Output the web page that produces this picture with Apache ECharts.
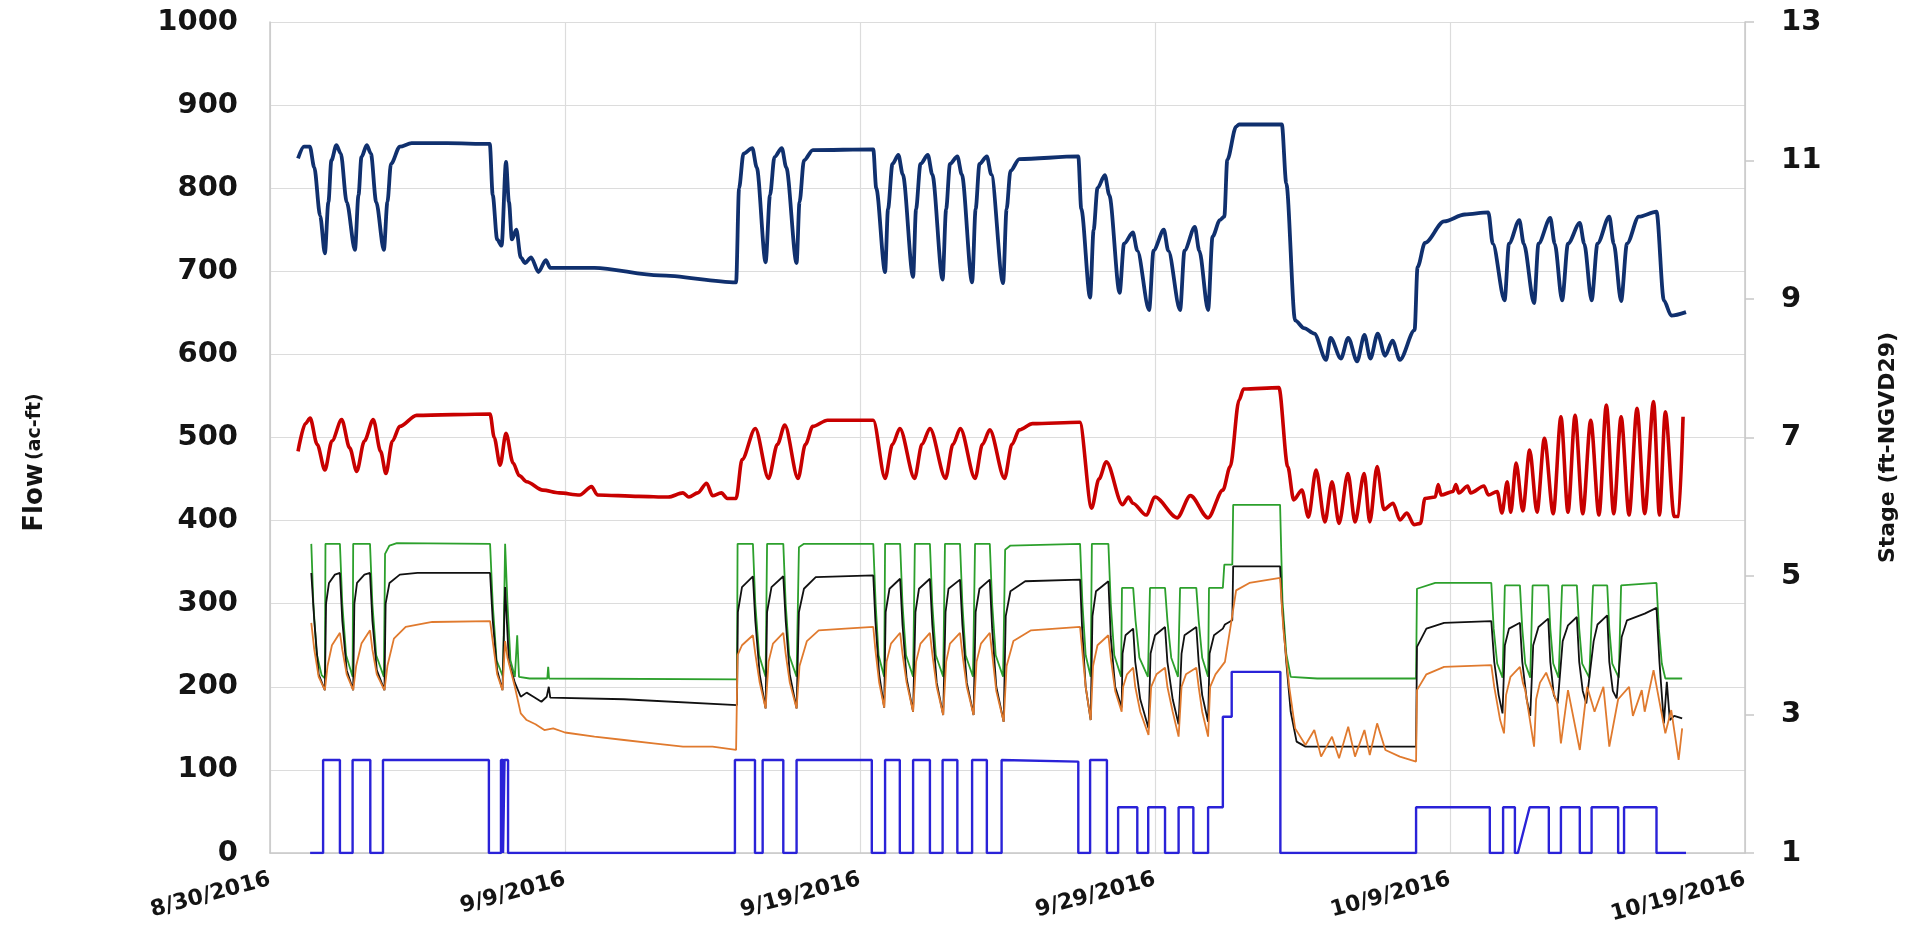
<!DOCTYPE html>
<html>
<head>
<meta charset="utf-8">
<script src="https://cdn.jsdelivr.net/npm/echarts@6/dist/echarts.min.js"></script>
<style>
html,body{margin:0;padding:0;background:#fff;}
#c{width:1911px;height:952px;}
</style>
</head>
<body>
<div id="c"></div>
<script>
// x values: days since 8/30/2016
const tickLabels = ['8/30/2016','9/9/2016','9/19/2016','9/29/2016','10/9/2016','10/19/2016'];

// Stage series (ft-NGVD29), right axis
const navyStage = [[0.95,11.03],[1.15,11.2],[1.35,11.2],[1.5,10.9],[1.7,10.2],[1.86,9.66],[1.98,10.4],[2.08,11.0],[2.25,11.22],[2.4,11.1],[2.6,10.4],[2.88,9.71],[3.0,10.5],[3.1,11.05],[3.28,11.22],[3.42,11.1],[3.6,10.4],[3.86,9.71],[3.98,10.4],[4.1,10.95],[4.4,11.2],[4.8,11.25],[6.0,11.25],[7.45,11.24],[7.55,10.5],[7.7,9.86],[7.85,9.77],[8.0,10.98],[8.1,10.4],[8.2,9.86],[8.35,10.0],[8.5,9.6],[8.65,9.52],[8.85,9.6],[9.1,9.39],[9.35,9.56],[9.5,9.45],[11.0,9.45],[13.2,9.34],[15.8,9.24],[15.9,10.6],[16.05,11.1],[16.35,11.18],[16.5,10.9],[16.8,9.53],[16.95,10.5],[17.1,11.05],[17.35,11.18],[17.5,10.9],[17.85,9.52],[17.95,10.4],[18.1,11.0],[18.4,11.15],[20.45,11.16],[20.55,10.6],[20.85,9.39],[20.95,10.3],[21.1,10.95],[21.3,11.08],[21.45,10.8],[21.8,9.32],[21.9,10.3],[22.05,10.95],[22.3,11.08],[22.45,10.8],[22.8,9.28],[22.92,10.3],[23.05,10.95],[23.3,11.06],[23.45,10.8],[23.8,9.24],[23.92,10.3],[24.05,10.95],[24.3,11.06],[24.45,10.8],[24.85,9.23],[24.97,10.3],[25.1,10.85],[25.4,11.02],[27.4,11.06],[27.5,10.3],[27.8,9.02],[27.92,10.0],[28.05,10.6],[28.3,10.79],[28.45,10.5],[28.8,9.09],[28.95,9.8],[29.25,9.96],[29.4,9.7],[29.8,8.84],[29.95,9.7],[30.3,10.0],[30.45,9.7],[30.85,8.84],[31.0,9.7],[31.35,10.04],[31.5,9.7],[31.8,8.84],[31.95,9.9],[32.2,10.14],[32.35,10.19],[32.45,11.01],[32.75,11.49],[32.85,11.52],[34.3,11.52],[34.45,10.67],[34.75,8.69],[35.05,8.58],[35.4,8.5],[35.8,8.12],[35.95,8.44],[36.3,8.14],[36.55,8.44],[36.85,8.1],[37.1,8.48],[37.3,8.14],[37.55,8.5],[37.8,8.18],[38.05,8.4],[38.3,8.12],[38.8,8.55],[38.9,9.46],[39.15,9.81],[39.8,10.12],[40.5,10.22],[41.3,10.25],[41.45,9.8],[41.85,8.98],[42.0,9.8],[42.35,10.14],[42.5,9.8],[42.85,8.94],[43.0,9.8],[43.4,10.17],[43.55,9.8],[43.8,8.98],[44.0,9.8],[44.4,10.1],[44.55,9.8],[44.8,8.98],[45.0,9.8],[45.4,10.19],[45.55,9.8],[45.8,8.97],[46.0,9.8],[46.4,10.19],[47.0,10.26],[47.25,8.98],[47.5,8.76],[48.0,8.81]];

const redStage = [[0.95,6.8],[1.2,7.2],[1.36,7.28],[1.6,6.9],[1.86,6.53],[2.1,6.95],[2.43,7.26],[2.7,6.85],[2.94,6.51],[3.2,6.95],[3.5,7.26],[3.75,6.8],[3.93,6.48],[4.15,6.95],[4.4,7.16],[4.97,7.32],[7.46,7.34],[7.6,7.0],[7.8,6.6],[8.0,7.06],[8.24,6.63],[8.45,6.45],[8.7,6.36],[9.25,6.24],[9.8,6.2],[10.5,6.17],[10.9,6.29],[11.1,6.17],[12.5,6.15],[13.5,6.14],[14.0,6.2],[14.2,6.14],[14.5,6.2],[14.8,6.34],[15.0,6.16],[15.3,6.2],[15.5,6.12],[15.8,6.12],[16.0,6.68],[16.45,7.13],[16.9,6.41],[17.2,6.9],[17.45,7.18],[17.9,6.41],[18.15,6.9],[18.4,7.16],[18.9,7.25],[20.45,7.25],[20.85,6.41],[21.1,6.9],[21.35,7.13],[21.85,6.41],[22.1,6.9],[22.37,7.13],[22.9,6.41],[23.15,6.9],[23.4,7.13],[23.9,6.41],[24.15,6.9],[24.4,7.11],[24.9,6.41],[25.15,6.9],[25.4,7.11],[25.85,7.2],[27.45,7.22],[27.85,5.98],[28.1,6.4],[28.35,6.65],[28.9,6.03],[29.1,6.14],[29.25,6.05],[29.7,5.88],[30.0,6.14],[30.75,5.84],[31.2,6.16],[31.8,5.84],[32.3,6.24],[32.55,6.58],[32.85,7.54],[33.0,7.7],[34.2,7.72],[34.5,6.58],[34.7,6.1],[34.98,6.24],[35.2,5.85],[35.46,6.53],[35.76,5.78],[36.0,6.36],[36.24,5.76],[36.54,6.48],[36.78,5.78],[37.09,6.48],[37.28,5.78],[37.53,6.58],[37.76,5.96],[38.07,6.05],[38.3,5.81],[38.54,5.91],[38.78,5.74],[39.0,5.76],[39.15,6.12],[39.5,6.14],[39.6,6.32],[39.7,6.17],[40.1,6.22],[40.2,6.32],[40.3,6.2],[40.6,6.3],[40.7,6.2],[41.15,6.3],[41.3,6.17],[41.6,6.22],[41.76,5.91],[41.94,6.36],[42.06,5.92],[42.24,6.63],[42.47,5.94],[42.7,6.82],[42.95,5.92],[43.2,6.99],[43.5,5.9],[43.76,7.3],[44.0,5.92],[44.24,7.32],[44.5,5.9],[44.77,7.25],[45.05,5.88],[45.3,7.47],[45.55,5.9],[45.8,7.3],[46.07,5.88],[46.34,7.42],[46.6,5.9],[46.9,7.52],[47.1,5.88],[47.3,7.37],[47.6,5.86],[47.75,5.86],[47.9,7.3]];

// Flow series (ac-ft), left axis
const greenFlow = [[1.4,372],[1.47,300],[1.58,240],[1.75,214],[1.86,210],[1.88,372],[2.37,372],[2.45,300],[2.58,238],[2.8,212],[2.82,372],[3.39,372],[3.47,300],[3.6,238],[3.86,212],[3.9,360],[4.05,370],[4.3,373],[7.46,372],[7.55,300],[7.68,232],[7.9,212],[7.97,372],[8.05,300],[8.15,232],[8.3,212],[8.38,262],[8.44,212],[8.8,210],[9.4,210],[9.43,224],[9.46,210],[15.83,209],[15.85,372],[16.37,372],[16.45,300],[16.58,238],[16.8,212],[16.85,372],[17.4,372],[17.48,300],[17.6,238],[17.85,212],[17.93,368],[18.1,372],[20.45,372],[20.53,300],[20.63,238],[20.82,212],[20.85,372],[21.36,372],[21.44,300],[21.56,238],[21.8,212],[21.86,372],[22.37,372],[22.45,300],[22.57,238],[22.82,212],[22.88,372],[23.39,372],[23.47,300],[23.58,238],[23.83,212],[23.9,372],[24.4,372],[24.48,300],[24.6,238],[24.85,212],[24.92,365],[25.1,370],[27.46,372],[27.54,300],[27.65,238],[27.82,212],[27.86,372],[28.42,372],[28.5,300],[28.62,238],[28.85,212],[28.88,319],[29.26,319],[29.34,280],[29.47,235],[29.76,212],[29.83,319],[30.34,319],[30.42,280],[30.55,235],[30.78,212],[30.85,319],[31.4,319],[31.48,280],[31.6,235],[31.8,212],[31.83,319],[32.3,319],[32.35,347],[32.62,347],[32.65,419],[34.24,419],[34.32,304],[34.45,240],[34.6,212],[35.5,210],[38.85,210],[38.88,318],[39.5,325],[41.4,325],[41.48,270],[41.6,228],[41.78,211],[41.86,322],[42.37,322],[42.45,270],[42.55,228],[42.72,211],[42.8,322],[43.33,322],[43.4,270],[43.5,228],[43.68,211],[43.8,322],[44.3,322],[44.38,270],[44.48,228],[44.72,211],[44.85,322],[45.33,322],[45.4,270],[45.5,228],[45.72,211],[45.8,322],[47.0,325],[47.08,270],[47.18,228],[47.3,210],[47.87,210]];

const blackFlow = [[1.4,337],[1.5,280],[1.65,215],[1.86,196],[1.9,300],[2.0,325],[2.2,335],[2.37,337],[2.45,280],[2.6,220],[2.82,196],[2.86,300],[2.95,325],[3.2,335],[3.39,337],[3.47,280],[3.62,220],[3.88,196],[3.92,300],[4.05,325],[4.4,335],[5.0,337],[7.46,337],[7.55,280],[7.7,220],[7.88,196],[7.97,320],[8.1,230],[8.3,205],[8.5,188],[8.7,193],[8.93,188],[9.2,182],[9.38,188],[9.45,200],[9.5,187],[12.0,185],[15.83,178],[15.86,290],[16.0,320],[16.37,333],[16.45,280],[16.6,215],[16.8,174],[16.85,290],[17.0,320],[17.4,333],[17.48,280],[17.62,215],[17.85,174],[17.93,290],[18.1,318],[18.5,332],[20.45,334],[20.52,280],[20.65,215],[20.82,175],[20.87,290],[21.0,318],[21.36,330],[21.44,275],[21.58,210],[21.8,170],[21.88,290],[22.0,318],[22.37,330],[22.45,275],[22.6,205],[22.82,166],[22.9,290],[23.0,318],[23.39,329],[23.47,275],[23.62,205],[23.85,166],[23.92,290],[24.05,318],[24.4,329],[24.48,270],[24.62,200],[24.87,158],[24.94,285],[25.1,315],[25.6,327],[27.46,329],[27.53,270],[27.65,200],[27.82,160],[27.88,285],[28.0,315],[28.42,327],[28.5,260],[28.65,200],[28.87,175],[28.9,240],[29.0,262],[29.26,270],[29.33,230],[29.5,185],[29.78,150],[29.85,240],[30.0,262],[30.34,272],[30.42,230],[30.6,185],[30.8,155],[30.9,240],[31.0,262],[31.4,272],[31.48,230],[31.6,190],[31.8,158],[31.85,240],[32.0,262],[32.3,270],[32.37,275],[32.62,280],[32.65,345],[34.24,345],[34.3,300],[34.45,230],[34.6,170],[34.8,134],[35.1,128],[38.85,128],[38.88,248],[39.2,270],[39.8,277],[41.4,279],[41.5,230],[41.65,190],[41.78,168],[41.86,250],[42.0,270],[42.37,277],[42.45,230],[42.6,185],[42.72,165],[42.82,250],[43.0,272],[43.33,282],[43.4,230],[43.52,190],[43.65,180],[43.82,255],[44.0,274],[44.3,284],[44.38,230],[44.5,195],[44.62,180],[44.87,255],[45.0,275],[45.33,286],[45.4,230],[45.52,195],[45.65,186],[45.82,260],[46.0,280],[46.6,288],[47.0,295],[47.1,230],[47.25,156],[47.35,206],[47.45,160],[47.6,165],[47.87,162]];

const orangeFlow = [[1.4,277],[1.5,245],[1.65,212],[1.86,196],[1.95,225],[2.1,250],[2.37,265],[2.45,245],[2.6,215],[2.82,196],[2.92,225],[3.1,252],[3.39,268],[3.47,245],[3.62,215],[3.88,196],[3.98,225],[4.2,258],[4.6,272],[5.5,278],[7.46,279],[7.55,255],[7.7,215],[7.88,196],[7.97,255],[8.05,235],[8.3,200],[8.5,168],[8.7,160],[9.0,155],[9.3,148],[9.6,150],[10.0,145],[11.0,140],[12.0,136],[13.0,132],[14.0,128],[15.0,128],[15.8,124],[15.85,238],[16.0,250],[16.37,262],[16.45,240],[16.6,205],[16.8,174],[16.9,230],[17.05,252],[17.4,265],[17.48,240],[17.62,205],[17.85,174],[17.95,225],[18.2,255],[18.6,268],[19.5,270],[20.45,272],[20.52,245],[20.65,205],[20.82,175],[20.9,230],[21.05,252],[21.36,265],[21.44,240],[21.58,205],[21.8,170],[21.9,230],[22.05,252],[22.37,265],[22.45,240],[22.6,200],[22.82,166],[22.92,230],[23.05,252],[23.39,265],[23.47,240],[23.62,200],[23.85,166],[23.95,230],[24.1,252],[24.4,265],[24.48,240],[24.62,195],[24.87,158],[24.97,225],[25.2,255],[25.8,268],[27.46,272],[27.53,245],[27.65,200],[27.82,160],[27.9,225],[28.05,250],[28.42,262],[28.5,235],[28.65,195],[28.87,170],[28.92,200],[29.05,215],[29.26,223],[29.33,200],[29.5,170],[29.78,142],[29.87,200],[30.05,215],[30.34,223],[30.42,200],[30.6,170],[30.8,140],[30.9,200],[31.05,215],[31.4,223],[31.48,200],[31.6,170],[31.8,140],[31.87,200],[32.05,215],[32.37,230],[32.55,270],[32.75,316],[33.2,325],[34.24,331],[34.35,270],[34.55,200],[34.75,150],[35.1,130],[35.4,148],[35.63,116],[36.0,140],[36.24,114],[36.55,152],[36.78,116],[37.1,148],[37.28,118],[37.53,156],[37.81,124],[38.3,116],[38.85,110],[38.88,196],[39.2,215],[39.8,224],[41.4,226],[41.5,200],[41.7,160],[41.83,144],[41.9,190],[42.05,212],[42.37,224],[42.47,205],[42.55,196],[42.85,128],[42.92,185],[43.05,205],[43.26,217],[43.63,181],[43.76,132],[44.0,196],[44.4,124],[44.65,200],[44.9,170],[45.2,200],[45.4,128],[45.7,185],[46.07,200],[46.2,165],[46.5,196],[46.6,170],[46.9,220],[47.3,144],[47.5,172],[47.75,112],[47.87,150]];

const blueFlow = [[1.36,0],[1.8,0],[1.8,112],[2.37,112],[2.37,0],[2.8,0],[2.8,112],[3.4,112],[3.4,0],[3.83,0],[3.83,112],[7.42,112],[7.42,0],[7.83,0],[7.83,112],[7.9,112],[7.9,0],[7.95,0],[7.95,112],[8.07,112],[8.07,0],[15.76,0],[15.76,112],[16.44,112],[16.44,0],[16.7,0],[16.7,112],[17.4,112],[17.4,0],[17.85,0],[17.85,112],[20.4,112],[20.4,0],[20.85,0],[20.85,112],[21.35,112],[21.35,0],[21.8,0],[21.8,112],[22.37,112],[22.37,0],[22.8,0],[22.8,112],[23.3,112],[23.3,0],[23.8,0],[23.8,112],[24.3,112],[24.3,0],[24.8,0],[24.8,112],[27.4,110],[27.4,0],[27.8,0],[27.8,112],[28.37,112],[28.37,0],[28.75,0],[28.75,55],[29.4,55],[29.4,0],[29.77,0],[29.77,55],[30.34,55],[30.34,0],[30.8,0],[30.8,55],[31.3,55],[31.3,0],[31.8,0],[31.8,55],[32.3,55],[32.3,164],[32.6,164],[32.6,218],[34.25,218],[34.25,0],[38.85,0],[38.85,55],[41.35,55],[41.35,0],[41.8,0],[41.8,55],[42.2,55],[42.2,0],[42.3,0],[42.7,55],[43.35,55],[43.35,0],[43.76,0],[43.76,55],[44.4,55],[44.4,0],[44.8,0],[44.8,55],[45.7,55],[45.7,0],[45.9,0],[45.9,55],[47.0,55],[47.0,0],[48.0,0]];

const chart = echarts.init(document.getElementById('c'));
const labelFont = {fontFamily:'DejaVu Sans', fontWeight:'bold', color:'#141414'};
function line(name, data, color, width, yIdx, smooth){
  return {name, type:'line', data, yAxisIndex:yIdx, showSymbol:false, symbol:'none',
    smooth: smooth || false, smoothMonotone: smooth ? 'x' : undefined,
    lineStyle:{color, width}, itemStyle:{color}, animation:false};
}
chart.setOption({
  backgroundColor:'#fff',
  animation:false,
  grid:{left:270, right:166, top:22, bottom:99, containLabel:false},
  xAxis:{type:'value', min:0, max:50, interval:10,
    axisLine:{show:true, lineStyle:{color:'#c8c8c8', width:1.5}},
    axisTick:{show:false},
    splitLine:{show:true, lineStyle:{color:'#dcdcdc', width:1.2}},
    axisLabel:Object.assign({fontSize:22, rotate:15, margin:26,
      formatter:(v)=>tickLabels[Math.round(v/10)] || ''}, labelFont)
  },
  yAxis:[
    {type:'value', min:0, max:1000, interval:100, position:'left',
      name:'{a|Flow} {b|(ac-ft)}', nameLocation:'middle', nameGap:222, nameRotate:90,
      nameTextStyle:{padding:[0,50,0,0],
        rich:{a:{fontFamily:'DejaVu Sans', fontWeight:'bold', fontSize:26, color:'#141414'},
              b:{fontFamily:'DejaVu Sans', fontWeight:'bold', fontSize:19, color:'#141414'}}},
      axisLine:{show:true, lineStyle:{color:'#c8c8c8', width:1.5}},
      axisTick:{show:false},
      splitLine:{show:true, lineStyle:{color:'#dcdcdc', width:1.2}},
      axisLabel:Object.assign({fontSize:29, margin:32, formatter:(v)=>String(v)}, labelFont)
    },
    {type:'value', min:1, max:13, interval:2, position:'right',
      name:'Stage (ft-NGVD29)', nameLocation:'middle', nameGap:132, nameRotate:90,
      nameTextStyle:{fontFamily:'DejaVu Sans', fontWeight:'bold', fontSize:22, color:'#141414', padding:[0,20,0,0]},
      axisLine:{show:true, lineStyle:{color:'#c8c8c8', width:1.5}},
      axisTick:{show:true, length:9, lineStyle:{color:'#c8c8c8', width:1.5}},
      splitLine:{show:false},
      axisLabel:Object.assign({fontSize:29, margin:36, formatter:(v)=>String(v)}, labelFont)
    }
  ],
  series:[
    line('Blue', blueFlow, '#2a22d8', 2.4, 0),
    line('Green', greenFlow, '#2ca02c', 1.8, 0),
    line('Black', blackFlow, '#111111', 1.8, 0),
    line('Orange', orangeFlow, '#e07a2e', 1.8, 0),
    line('Red', redStage, '#c80000', 3.6, 1, 0.3),
    line('Navy', navyStage, '#10306e', 3.8, 1, 0.3)
  ]
});
</script>
</body>
</html>
